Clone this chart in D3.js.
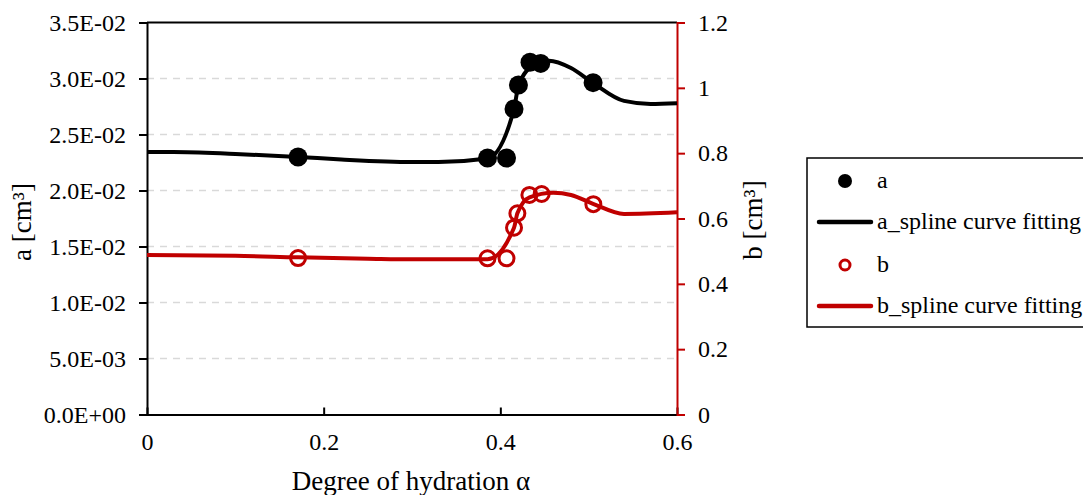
<!DOCTYPE html>
<html><head><meta charset="utf-8">
<script src="https://cdn.jsdelivr.net/npm/d3@7"></script>
<style>
html,body{margin:0;padding:0;background:#fff;}
</style></head>
<body><svg id="c" width="1083" height="495"></svg>
<script>
// ---- data ----
const aPointX = [0.171, 0.3855, 0.407, 0.4155, 0.4205, 0.4336, 0.4457, 0.5050];
const aPointY = [0.02299, 0.02290, 0.02290, 0.02728, 0.02942, 0.03145, 0.03135, 0.02963];
const aCurveX = [0, 0.03, 0.1, 0.171, 0.22, 0.3, 0.33, 0.3855, 0.4155, 0.4205, 0.438, 0.455, 0.48, 0.505, 0.54, 0.57, 0.6];
const aCurveY = [0.02344, 0.02344, 0.02326, 0.02300, 0.02277, 0.02254, 0.02254, 0.02285, 0.02728, 0.02935, 0.03120, 0.03159, 0.03094, 0.02960, 0.02800, 0.02773, 0.02779];
const bPointX = [0.171, 0.3855, 0.407, 0.4155, 0.4193, 0.4329, 0.4468, 0.5053];
const bPointY = [0.479, 0.478, 0.478, 0.572, 0.616, 0.672, 0.675, 0.644];
const bCurveX = [0, 0.1, 0.171, 0.25, 0.3, 0.3855, 0.4155, 0.4193, 0.433, 0.46, 0.48, 0.505, 0.54, 0.6];
const bCurveY = [0.488, 0.486, 0.481, 0.477, 0.475, 0.475, 0.572, 0.616, 0.665, 0.679, 0.672, 0.645, 0.614, 0.619];
const xTicks = [0, 0.2, 0.4, 0.6];
const xTickLabels = ["0", "0.2", "0.4", "0.6"];
const yLeftTicks = [0, 0.005, 0.01, 0.015, 0.02, 0.025, 0.03, 0.035];
const yLeftLabels = ["0.0E+00","5.0E-03","1.0E-02","1.5E-02","2.0E-02","2.5E-02","3.0E-02","3.5E-02"];
const yRightTicks = [0, 0.2, 0.4, 0.6, 0.8, 1, 1.2];
const yRightLabels = ["0","0.2","0.4","0.6","0.8","1","1.2"];
const legendLabels = ["a", "a_spline curve fitting", "b", "b_spline curve fitting"];

const FONT = "'Liberation Serif', 'Times New Roman', serif";
const RED = "#c00000";
const svg = d3.select("#c");
const L = 147, R = 677, T = 22.5, B = 414.5;
const x = d3.scaleLinear().domain([0, 0.6]).range([L, R]);
const yl = d3.scaleLinear().domain([0, 0.035]).range([B, T]);
const yr = d3.scaleLinear().domain([0, 1.2]).range([B, T]);

// gridlines
svg.append("g").selectAll("line").data(yLeftTicks.filter(v => v > 0 && v < 0.035)).join("line")
  .attr("x1", L).attr("x2", R).attr("y1", d => yl(d)).attr("y2", d => yl(d))
  .attr("stroke", "#d9d9d9").attr("stroke-width", 1.5).attr("stroke-dasharray", "7,6");

// frame top
svg.append("line").attr("x1", L).attr("x2", R).attr("y1", T).attr("y2", T).attr("stroke", "#000").attr("stroke-width", 2);

function styleTicks(g) {
  g.attr("font-family", null).attr("font-size", null);
  g.selectAll(".tick text").style("font-family", FONT).style("font-size", "24px").attr("fill", "#000");
}

// left axis
const gl = svg.append("g").attr("transform", `translate(${L},0)`)
  .call(d3.axisLeft(yl).tickValues(yLeftTicks).tickFormat((d, i) => yLeftLabels[i]).tickSize(8).tickPadding(13));
gl.select(".domain").attr("stroke", "#000").attr("stroke-width", 2);
gl.selectAll(".tick line").attr("stroke", "#000").attr("stroke-width", 2);
styleTicks(gl);

// bottom axis
const gb = svg.append("g").attr("transform", `translate(0,${B})`)
  .call(d3.axisBottom(x).tickValues(xTicks).tickFormat((d, i) => xTickLabels[i]).tickSizeInner(-7).tickSizeOuter(0).tickPadding(18));
gb.select(".domain").attr("stroke", "#000").attr("stroke-width", 2);
gb.selectAll(".tick line").attr("stroke", "#000").attr("stroke-width", 2);
styleTicks(gb);

// right axis
const gr = svg.append("g").attr("transform", `translate(${R},0)`)
  .call(d3.axisRight(yr).tickValues(yRightTicks).tickFormat((d, i) => yRightLabels[i]).tickSize(8).tickPadding(13));
gr.select(".domain").attr("stroke", RED).attr("stroke-width", 2);
gr.selectAll(".tick line").attr("stroke", RED).attr("stroke-width", 2);
styleTicks(gr);

// curves
const lineA = d3.line().x(d => x(d[0])).y(d => yl(d[1])).curve(d3.curveMonotoneX);
const lineB = d3.line().x(d => x(d[0])).y(d => yr(d[1])).curve(d3.curveMonotoneX);
svg.append("path").attr("d", lineA(d3.zip(aCurveX, aCurveY))).attr("fill", "none").attr("stroke", "#000").attr("stroke-width", 4).attr("stroke-linejoin", "round");
svg.append("path").attr("d", lineB(d3.zip(bCurveX, bCurveY))).attr("fill", "none").attr("stroke", RED).attr("stroke-width", 4).attr("stroke-linejoin", "round");

// points
svg.append("g").selectAll("circle").data(d3.zip(aPointX, aPointY)).join("circle")
  .attr("cx", d => x(d[0])).attr("cy", d => yl(d[1])).attr("r", 9.5).attr("fill", "#000");
svg.append("g").selectAll("circle").data(d3.zip(bPointX, bPointY)).join("circle")
  .attr("cx", d => x(d[0])).attr("cy", d => yr(d[1])).attr("r", 7.5).attr("fill", "none").attr("stroke", RED).attr("stroke-width", 3);

// axis titles
function txt(sel) { return sel.style("font-family", FONT).attr("fill", "#000"); }
txt(svg.append("text")).attr("x", 411).attr("y", 490).attr("text-anchor", "middle").style("font-size", "27px").text("Degree of hydration α");
txt(svg.append("text")).attr("transform", "translate(31,222) rotate(-90)").attr("text-anchor", "middle").style("font-size", "27px").text("a [cm³]");
txt(svg.append("text")).attr("transform", "translate(762,220) rotate(-90)").attr("text-anchor", "middle").style("font-size", "27px").text("b [cm³]");

// legend
const lg = svg.append("g");
lg.append("rect").attr("x", 807).attr("y", 158).attr("width", 290).attr("height", 169).attr("fill", "#fff").attr("stroke", "#000").attr("stroke-width", 1.5);
const rows = [181, 222, 265, 306];
lg.append("circle").attr("cx", 845).attr("cy", rows[0]).attr("r", 7).attr("fill", "#000");
lg.append("line").attr("x1", 819).attr("x2", 871).attr("y1", rows[1]).attr("y2", rows[1]).attr("stroke", "#000").attr("stroke-width", 4.5).attr("stroke-linecap", "round");
lg.append("circle").attr("cx", 845).attr("cy", rows[2]).attr("r", 5).attr("fill", "none").attr("stroke", RED).attr("stroke-width", 3);
lg.append("line").attr("x1", 819).attr("x2", 871).attr("y1", rows[3]).attr("y2", rows[3]).attr("stroke", RED).attr("stroke-width", 4.5).attr("stroke-linecap", "round");
txt(lg.selectAll("text.lab").data(legendLabels).join("text").attr("class", "lab"))
  .attr("x", 877).attr("y", (d, i) => rows[i] + 7).style("font-size", "24px").text(d => d);
</script></body></html>
